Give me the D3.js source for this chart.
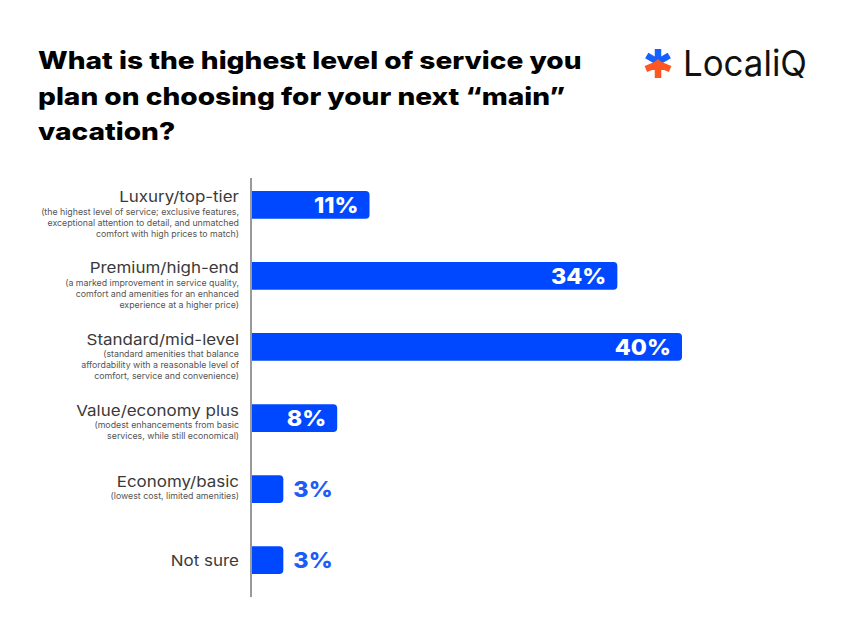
<!DOCTYPE html>
<html>
<head>
<meta charset="utf-8">
<script src="https://cdn.jsdelivr.net/npm/d3@7"></script>
<style>
  body { margin: 0; background: #fff; }
  svg { display: block; font-family: Inter, "Noto Sans", sans-serif; }
</style>
</head>
<body>
<svg id="chart" width="846" height="627"></svg>
<script>
// data
const titleLines = ["What is the highest level of service you", "plan on choosing for your next \u201cmain\u201d", "vacation?"];
const categories = ["Luxury/top-tier", "Premium/high-end", "Standard/mid-level", "Value/economy plus", "Economy/basic", "Not sure"];
const descriptions = [
    ["(the highest level of service; exclusive features,", "exceptional attention to detail, and unmatched", "comfort with high prices to match)"],
    ["(a marked improvement in service quality,", "comfort and amenities for an enhanced", "experience at a higher price)"],
    ["(standard amenities that balance", "affordability with a reasonable level of", "comfort, service and convenience)"],
    ["(modest enhancements from basic", "services, while still economical)"],
    ["(lowest cost, limited amenities)"],
    []
];
const values = [11, 34, 40, 8, 3, 3];

const blue = "#0048ff";
const svg = d3.select("#chart");

// the original uses a wide geometric face; stretch Inter a bit to match
function widen(sel, k) {
    sel.each(function () {
        const w = this.getComputedTextLength();
        d3.select(this)
            .attr("textLength", w * k)
            .attr("lengthAdjust", "spacingAndGlyphs");
    });
}

// title
svg.append("g").selectAll("text")
    .data(titleLines)
    .enter().append("text")
    .attr("x", 38)
    .attr("y", (d, i) => 69 + i * 35.5)
    .attr("font-size", 24)
    .attr("font-weight", 800)
    .attr("fill", "#000")
    .text(d => d)
    .call(widen, 1.17);

// logo
const logo = svg.append("g").attr("transform", "translate(658,62)");
[-90, -30, -150].forEach(a => {
    const r = a * Math.PI / 180;
    logo.append("line")
        .attr("x1", 0).attr("y1", 0)
        .attr("x2", 13 * Math.cos(r)).attr("y2", 13 * Math.sin(r))
        .attr("stroke", "#1560ff").attr("stroke-width", 6.5);
});
[30, 150, 90].forEach(a => {
    const r = a * Math.PI / 180;
    logo.append("line")
        .attr("x1", 0).attr("y1", 2)
        .attr("x2", 14 * Math.cos(r)).attr("y2", 14 * Math.sin(r) + (a === 90 ? 2 : 0))
        .attr("stroke", "#ff5722").attr("stroke-width", 6.5);
});
logo.append("path")
    .attr("d", "M0,-3 L12,8 L-12,8 Z")
    .attr("fill", "#ff5722");
svg.append("text")
    .attr("x", 683).attr("y", 76)
    .attr("font-size", 36)
    .attr("font-weight", 400)
    .attr("fill", "#111")
    .attr("textLength", 124)
    .attr("lengthAdjust", "spacingAndGlyphs")
    .text("LocaliQ");

// scales
const x0 = 251;
const xScale = d3.scaleLinear()
    .domain([0, 40])
    .range([0, 431]);

const yScale = d3.scaleBand()
    .domain(categories)
    .range([178, 587])
    .paddingInner(0.61)
    .paddingOuter(0.183);

const bh = yScale.bandwidth();
const rad = 4;

function barPath(w) {
    const r = Math.min(rad, w / 2);
    return "M0,0 H" + (w - r) + " Q" + w + ",0 " + w + "," + r +
        " V" + (bh - r) + " Q" + w + "," + bh + " " + (w - r) + "," + bh + " H0 Z";
}

const rows = svg.append("g").selectAll("g")
    .data(categories)
    .enter().append("g")
    .attr("transform", d => "translate(" + x0 + "," + yScale(d) + ")");

rows.append("path")
    .attr("d", (d, i) => barPath(xScale(values[i])))
    .attr("fill", blue);

rows.append("text")
    .attr("x", (d, i) => values[i] >= 8 ? xScale(values[i]) - 11 : xScale(values[i]) + 10)
    .attr("y", bh / 2)
    .attr("dy", "0.37em")
    .attr("text-anchor", (d, i) => values[i] >= 8 ? "end" : "start")
    .attr("font-size", 22)
    .attr("font-weight", 800)
    .attr("fill", (d, i) => values[i] >= 8 ? "#fff" : "#1d5cf5")
    .text((d, i) => values[i] + "%")
    .call(widen, 1.06);

// category labels
const labels = rows.append("g")
    .attr("transform", "translate(-12,0)");

labels.append("text")
    .attr("x", 0)
    .attr("y", (d, i) => descriptions[i].length ? 6 : bh / 2)
    .attr("dy", "0.36em")
    .attr("text-anchor", "end")
    .attr("font-size", 15)
    .attr("fill", "#3a3a3a")
    .text(d => d)
    .call(widen, 1.13);

labels.each(function (d, i) {
    d3.select(this).selectAll(".sub")
        .data(descriptions[i])
        .enter().append("text")
        .attr("class", "sub")
        .attr("x", 0)
        .attr("y", (s, j) => 21 + j * 11)
        .attr("dy", "0.36em")
        .attr("text-anchor", "end")
        .attr("font-size", 8.8)
        .attr("fill", "#555")
        .text(s => s);
});

// axis line
svg.append("line")
    .attr("x1", x0).attr("x2", x0)
    .attr("y1", 178).attr("y2", 597)
    .attr("stroke", "#999")
    .attr("stroke-width", 2);
</script>
</body>
</html>
